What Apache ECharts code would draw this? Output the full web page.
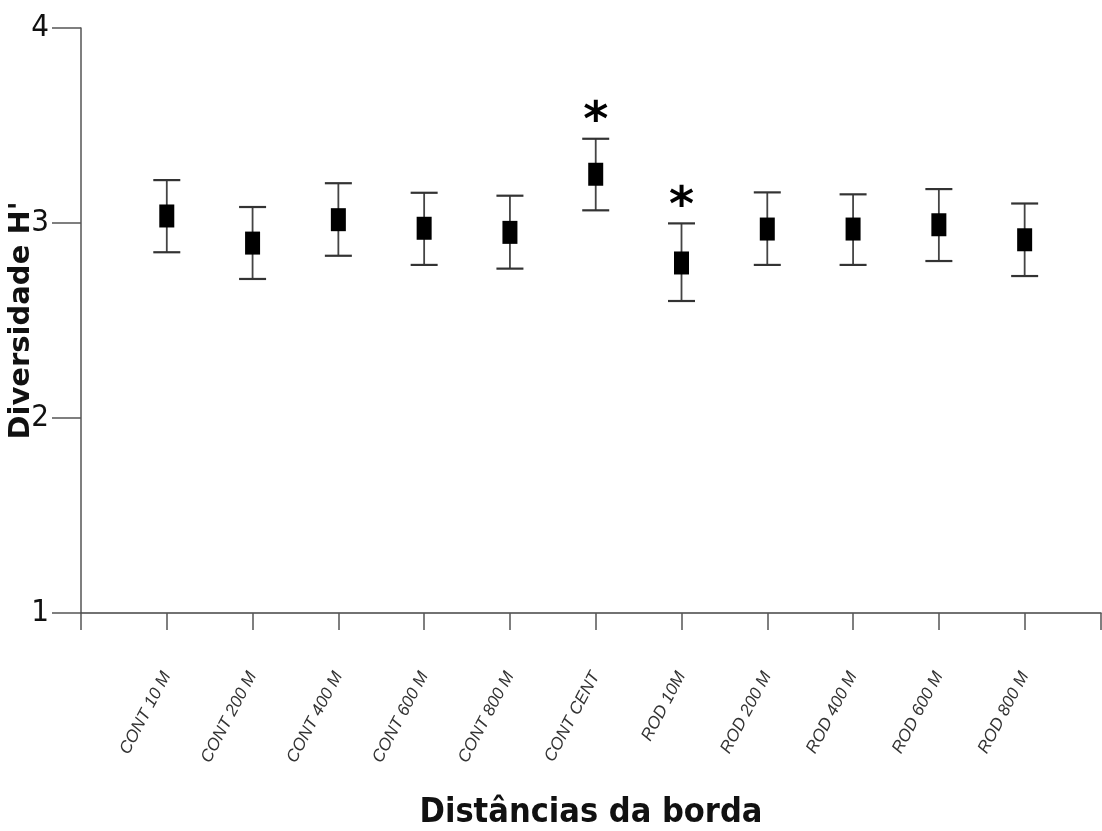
<!DOCTYPE html>
<html>
<head>
<meta charset="utf-8">
<script src="https://cdn.jsdelivr.net/npm/echarts@6/dist/echarts.min.js"></script>
<style>html,body{margin:0;padding:0;background:#fff}#c{width:1102px;height:831px}</style>
</head>
<body>
<div id="c"></div>
<script>
const categories = ['CONT 10 M','CONT 200 M','CONT 400 M','CONT 600 M','CONT 800 M','CONT CENT','ROD 10M','ROD 200 M','ROD 400 M','ROD 600 M','ROD 800 M'];
const means = [3.036, 2.897, 3.017, 2.973, 2.952, 3.25, 2.795, 2.969, 2.969, 2.991, 2.914];
const upper = [3.22, 3.082, 3.204, 3.155, 3.14, 3.432, 2.998, 3.157, 3.147, 3.174, 3.10];
const lower = [2.85, 2.713, 2.832, 2.785, 2.766, 3.065, 2.60, 2.785, 2.785, 2.805, 2.728];
const significance = ['', '', '', '', '', '*', '*', '', '', '', ''];
const yTicks = [1, 2, 3, 4];

const narrow = "'Liberation Sans Narrow', 'DejaVu Sans Condensed', sans-serif";
const chart = echarts.init(document.getElementById('c'));
const errData = categories.map((c, i) => [i + 1, lower[i], upper[i], means[i], i]);

chart.setOption({
  animation: false,
  backgroundColor: '#fff',
  grid: {left: 81, right: 1, top: 28, bottom: 218, containLabel: false, outerBoundsMode: 'none'},
  xAxis: {
    type: 'value', min: 0, max: 11.89, interval: 1,
    splitLine: {show: false},
    axisLine: {show: true, lineStyle: {color: '#444', width: 1.5}},
    axisTick: {show: true, length: 17, lineStyle: {color: '#555', width: 1.5}},
    axisLabel: {
      rotate: 62, margin: 60, color: '#333',
      fontFamily: 'Liberation Sans, Arial, sans-serif', fontStyle: 'italic', fontSize: 17,
      formatter: v => (Number.isInteger(v) && v >= 1 && v <= categories.length) ? categories[v - 1] : ''
    },
    name: 'Distâncias da borda', nameLocation: 'middle', nameGap: 183, nameMoveOverlap: false,
    nameTextStyle: {fontFamily: narrow, fontWeight: 'bold', fontSize: 34, color: '#111'}
  },
  yAxis: {
    type: 'value', min: 1, max: 4, interval: 1,
    splitLine: {show: false},
    axisLine: {show: true, lineStyle: {color: '#555', width: 1.5}},
    axisTick: {show: true, length: 29, lineStyle: {color: '#555', width: 1.5}},
    axisLabel: {
      margin: 32, color: '#111', fontFamily: narrow, fontSize: 31,
      formatter: v => yTicks.includes(v) ? String(v) : ''
    },
    name: "Diversidade H'", nameLocation: 'middle', nameGap: 45, nameMoveOverlap: false,
    nameTextStyle: {fontFamily: 'DejaVu Sans, sans-serif', fontWeight: 'bold', fontSize: 29, color: '#111'}
  },
  series: [
    {
      type: 'custom',
      data: errData,
      encode: {x: 0, y: [1, 2]},
      renderItem: function (params, api) {
        const x = api.value(0);
        const lo = api.coord([x, api.value(1)]);
        const hi = api.coord([x, api.value(2)]);
        const idx = api.value(4);
        const half = 13.5;
        const st = {stroke: '#444', lineWidth: 1.8};
        const children = [
          {type: 'line', shape: {x1: hi[0], y1: hi[1], x2: lo[0], y2: lo[1]}, style: st},
          {type: 'line', shape: {x1: hi[0] - half, y1: hi[1], x2: hi[0] + half, y2: hi[1]}, style: {stroke: '#333', lineWidth: 2.2}},
          {type: 'line', shape: {x1: lo[0] - half, y1: lo[1], x2: lo[0] + half, y2: lo[1]}, style: {stroke: '#333', lineWidth: 2.2}}
        ];
        if (significance[idx]) {
          children.push({
            type: 'text',
            style: {
              text: significance[idx], x: hi[0], y: hi[1] - 16,
              align: 'center', verticalAlign: 'middle',
              font: 'bold 48px DejaVu Sans, sans-serif', fill: '#000'
            }
          });
        }
        return {type: 'group', children: children};
      },
      z: 2
    },
    {
      type: 'scatter',
      data: categories.map((c, i) => [i + 1, means[i]]),
      symbol: 'rect', symbolSize: [15, 23],
      itemStyle: {color: '#000', opacity: 1},
      z: 3
    }
  ]
});
</script>
</body>
</html>
